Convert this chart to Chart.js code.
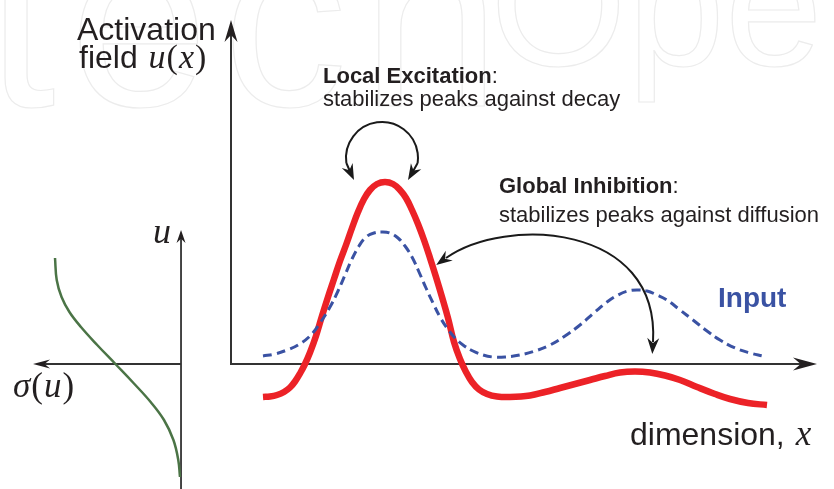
<!DOCTYPE html>
<html>
<head>
<meta charset="utf-8">
<script src="https://cdn.jsdelivr.net/npm/chart.js@4.4.1/dist/chart.umd.min.js"></script>
<style>
  html, body { margin: 0; padding: 0; background: #ffffff; }
  canvas { display: block; }
</style>
</head>
<body>
<canvas id="c" width="834" height="489"></canvas>
<script>
// ---- data ----
// activation field u(x) (red)
const fieldX = [6.4, 7.8, 9.2, 10.6, 11.8, 12.8, 13.8, 14.8, 15.8, 17, 18.2, 19.4, 20.6, 21.8, 23, 24.2, 25.4, 26.6, 27.8, 29.2, 30.8, 32.4, 33.8, 35, 36.2, 37.4, 38.6, 39.8, 41, 42.2, 43.4, 44.6, 45.8, 47, 48.2, 49.6, 51.2, 53.2, 55.8, 59.8, 62.8, 65.8, 68.8, 71.8, 74.8, 77.8, 80.8, 83.8, 86.8, 89.8, 93.2, 96.8, 99.8, 103.4, 107.2];
const fieldU = [-16.5, -16.25, -15.5, -14, -11.75, -8.75, -4.75, 0, 5.75, 14, 24, 33.5, 42.5, 51.5, 59.5, 68, 76, 82.5, 87, 90, 91, 90, 87, 83, 77, 70, 62, 53, 43.5, 33.5, 23, 11, 2.5, -4, -9, -12.75, -15, -16.25, -16.5, -15.75, -14, -12, -10, -8, -6, -4.25, -3.75, -4.25, -5.75, -8, -11.5, -15, -17.5, -19.5, -20.5];
// input (blue dashed)
const inputX = [6.4, 8.8, 11.2, 13.4, 15.8, 17.8, 19.8, 21.4, 22.8, 24.2, 25.6, 27, 28.6, 30.2, 31.8, 33.4, 34.8, 36.2, 37.6, 39, 40.4, 41.8, 43.2, 44.8, 46.4, 48.4, 50.4, 52.4, 54.8, 57.8, 60.8, 63.8, 66.8, 69.8, 72.8, 75.2, 77.4, 79.4, 81.2, 83.2, 85.2, 87.2, 89.8, 92.4, 95.2, 97.8, 100.8, 103.8, 106.4];
const inputS = [4, 5, 7, 9.5, 14, 20.5, 28.5, 36.5, 44.5, 52.5, 59, 63.5, 65.5, 66, 65.5, 63, 59, 53.5, 46, 38, 30.5, 23.5, 18, 13, 9.5, 6.5, 4.5, 3.5, 3.5, 4.5, 6.5, 9.5, 14, 19.5, 26, 31, 34.5, 36.5, 37, 36.5, 34.5, 32, 27, 22, 16.5, 12, 8, 5.5, 4];
// sigmoid sigma(u) (green): u on the vertical axis, sigma on the horizontal axis (pointing left)
const sigU = [5.3, 4.2, 3.35, 2.6, 1.85, 0.95, 0, -0.95, -1.9, -2.8, -3.8, -4.8, -5.65];
const sigS = [0.962, 0.949, 0.912, 0.852, 0.764, 0.640, 0.501, 0.363, 0.232, 0.130, 0.058, 0.021, 0.008];

// ---- labels ----
const yTitle1 = 'Activation';
const yTitle2 = 'field ';
const xTitle = 'dimension, ';
const exciteTitle = 'Local Excitation';
const exciteText = 'stabilizes peaks against decay';
const inhibTitle = 'Global Inhibition';
const inhibText = 'stabilizes peaks against diffusion';
const inputLabel = 'Input';

const RED = '#ec2227';
const BLUE = '#3a52a3';
const GREEN = '#4b7446';
const INK = '#231f20';
const AXIS = '#333333';
const SANS = '"Liberation Sans", Arial, Helvetica, sans-serif';
const SERIF = '"Liberation Serif", "Times New Roman", serif';

function pts(xs, ys) { return xs.map((x, i) => ({ x: x, y: ys[i] })); }

function arrowHead(ctx, x, y, ang, len, hw) {
  ctx.save();
  ctx.translate(x, y);
  ctx.rotate(ang);
  ctx.beginPath();
  ctx.moveTo(0, 0);
  ctx.lineTo(-len, -hw);
  ctx.lineTo(-len * 0.68, 0);
  ctx.lineTo(-len, hw);
  ctx.closePath();
  ctx.fill();
  ctx.restore();
}

function rich(ctx, x, y, segs) {
  let cx = x;
  segs.forEach(s => {
    ctx.font = s.f;
    ctx.fillStyle = s.c || INK;
    ctx.fillText(s.t, cx + (s.dx || 0), y);
    cx += ctx.measureText(s.t).width + (s.dx || 0);
  });
}

const overlay = {
  id: 'overlay',
  beforeDraw(chart) {
    const ctx = chart.ctx;
    ctx.save();
    ctx.fillStyle = '#ffffff';
    ctx.fillRect(0, 0, chart.width, chart.height);
    // faint watermark
    ctx.strokeStyle = '#ececec';
    ctx.lineWidth = 1.2;
    ctx.textBaseline = 'alphabetic';
    ctx.font = '250px ' + SANS;
    try { ctx.letterSpacing = '14px'; } catch (e) {}
    ctx.strokeText('tech', -14, 106);
    try { ctx.letterSpacing = '0px'; } catch (e) {}
    ctx.font = '176px ' + SANS;
    ctx.strokeText('Ope', 490, 65);
    ctx.restore();
  },
  beforeDatasetsDraw(chart) {
    const ctx = chart.ctx;
    const X = v => chart.scales.x.getPixelForValue(v);
    const Y = v => chart.scales.y.getPixelForValue(v);
    const SX = v => chart.scales.sx.getPixelForValue(v);
    const SU = v => chart.scales.su.getPixelForValue(v);
    ctx.save();
    ctx.strokeStyle = AXIS;
    ctx.fillStyle = INK;
    ctx.lineWidth = 2;
    // main axes
    ctx.beginPath();
    ctx.moveTo(X(0), Y(172) + 14);
    ctx.lineTo(X(0), Y(0));
    ctx.lineTo(X(117.2) - 14, Y(0));
    ctx.stroke();
    arrowHead(ctx, X(0), Y(172), -Math.PI / 2, 22, 6.5);
    arrowHead(ctx, X(117.2), Y(0), 0, 24, 6.5);
    // sigmoid axes
    ctx.lineWidth = 1.8;
    ctx.beginPath();
    ctx.moveTo(SX(0), SU(-6.25));
    ctx.lineTo(SX(0), SU(6.7) + 8);
    ctx.moveTo(SX(0), SU(0));
    ctx.lineTo(SX(1.13) + 10, SU(0));
    ctx.stroke();
    arrowHead(ctx, SX(0), SU(6.7), -Math.PI / 2, 13, 4.5);
    arrowHead(ctx, SX(1.13), SU(0), Math.PI, 17, 4.5);
    ctx.restore();
  },
  afterDatasetsDraw(chart) {
    const ctx = chart.ctx;
    const X = v => chart.scales.x.getPixelForValue(v);
    const Y = v => chart.scales.y.getPixelForValue(v);
    ctx.save();
    ctx.strokeStyle = '#1a1a1a';
    ctx.fillStyle = '#1a1a1a';
    ctx.lineWidth = 2;
    // local excitation loop
    const cx = X(30.2), cy = Y(103);
    ctx.beginPath();
    ctx.arc(cx, cy, 36, 172 * Math.PI / 180, (360 + 8) * Math.PI / 180, false);
    ctx.stroke();
    const lt = [X(24.6), Y(92)], rt = [X(35.4), Y(92)];
    const la = Math.atan2(lt[1] - (cy + 5), lt[0] - (cx - 36));
    const ra = Math.atan2(rt[1] - (cy + 5), rt[0] - (cx + 36));
    ctx.beginPath();
    ctx.moveTo(cx - 36 * Math.cos(8 * Math.PI / 180), cy + 5);
    ctx.lineTo(lt[0] - 8 * Math.cos(la), lt[1] - 8 * Math.sin(la));
    ctx.moveTo(cx + 36 * Math.cos(8 * Math.PI / 180), cy + 5);
    ctx.lineTo(rt[0] - 8 * Math.cos(ra), rt[1] - 8 * Math.sin(ra));
    ctx.stroke();
    arrowHead(ctx, lt[0], lt[1], la, 16, 6);
    arrowHead(ctx, rt[0], rt[1], ra, 16, 6);
    // global inhibition arc
    const p0 = [X(43), Y(53)], p1 = [X(54.8), Y(74)], p2 = [X(85.8), Y(70.5)], p3 = [X(84.4), Y(11)];
    ctx.beginPath();
    ctx.moveTo(p0[0], p0[1]);
    ctx.bezierCurveTo(p1[0], p1[1], p2[0], p2[1], p3[0], p3[1]);
    ctx.stroke();
    const a0 = Math.atan2(p0[1] - p1[1], p0[0] - p1[0]);
    const a3 = Math.atan2(p3[1] - p2[1], p3[0] - p2[0]);
    arrowHead(ctx, p0[0] + 12 * Math.cos(a0), p0[1] + 12 * Math.sin(a0), a0, 16, 6);
    arrowHead(ctx, p3[0] + 12 * Math.cos(a3), p3[1] + 12 * Math.sin(a3), a3, 16, 6);

    // texts
    ctx.textBaseline = 'alphabetic';
    ctx.textAlign = 'left';
    ctx.fillStyle = INK;
    ctx.font = '32px ' + SANS;
    ctx.fillText(yTitle1, 77, 40);
    rich(ctx, 79, 68, [
      { t: yTitle2, f: '32px ' + SANS },
      { t: 'u', f: 'italic 34px ' + SERIF, dx: 2 },
      { t: '(', f: '34px ' + SERIF, dx: 1 },
      { t: 'x', f: 'italic 34px ' + SERIF, dx: 1 },
      { t: ')', f: '34px ' + SERIF, dx: 1 }
    ]);
    rich(ctx, 630, 445, [
      { t: xTitle, f: '32px ' + SANS },
      { t: 'x', f: 'italic 35px ' + SERIF, dx: 2 }
    ]);
    rich(ctx, 153, 243, [{ t: 'u', f: 'italic 36px ' + SERIF }]);
    rich(ctx, 13, 397, [
      { t: '\u03c3', f: 'italic 35px ' + SERIF },
      { t: '(', f: '35px ' + SERIF, dx: 1 },
      { t: 'u', f: 'italic 35px ' + SERIF, dx: 1 },
      { t: ')', f: '35px ' + SERIF, dx: 1 }
    ]);
    rich(ctx, 323, 83, [
      { t: exciteTitle, f: 'bold 22px ' + SANS },
      { t: ':', f: '22px ' + SANS }
    ]);
    ctx.font = '22px ' + SANS;
    ctx.fillStyle = INK;
    ctx.fillText(exciteText, 323, 106);
    rich(ctx, 499, 193, [
      { t: inhibTitle, f: 'bold 22px ' + SANS },
      { t: ':', f: '22px ' + SANS }
    ]);
    ctx.font = '22px ' + SANS;
    ctx.fillStyle = INK;
    ctx.fillText(inhibText, 499, 222);
    ctx.font = 'bold 28px ' + SANS;
    ctx.fillStyle = BLUE;
    ctx.fillText(inputLabel, 718, 307);
    ctx.restore();
  }
};

new Chart(document.getElementById('c'), {
  type: 'line',
  data: {
    datasets: [
      {
        label: 'Input',
        data: pts(inputX, inputS),
        xAxisID: 'x', yAxisID: 'y',
        borderColor: BLUE,
        borderWidth: 3,
        borderDash: [9, 5],
        pointRadius: 0,
        fill: false,
        tension: 0.4
      },
      {
        label: 'Activation field',
        data: pts(fieldX, fieldU),
        xAxisID: 'x', yAxisID: 'y',
        borderColor: RED,
        borderWidth: 6.5,
        pointRadius: 0,
        fill: false,
        tension: 0.4
      },
      {
        label: 'sigma(u)',
        data: pts(sigS, sigU),
        xAxisID: 'sx', yAxisID: 'su',
        borderColor: GREEN,
        borderWidth: 2.5,
        pointRadius: 0,
        fill: false,
        tension: 0.4
      }
    ]
  },
  options: {
    responsive: false,
    devicePixelRatio: 1,
    animation: false,
    layout: { padding: 0 },
    plugins: { legend: { display: false }, tooltip: { enabled: false }, title: { display: false } },
    scales: {
      x: { type: 'linear', min: -46.2, max: 120.6, display: false },
      y: { type: 'linear', min: -62.5, max: 182, display: false },
      sx: { type: 'linear', min: -4.985, max: 1.382, reverse: true, display: false },
      su: { type: 'linear', min: -6.25, max: 18.2, display: false }
    }
  },
  plugins: [overlay]
});
</script>
</body>
</html>
